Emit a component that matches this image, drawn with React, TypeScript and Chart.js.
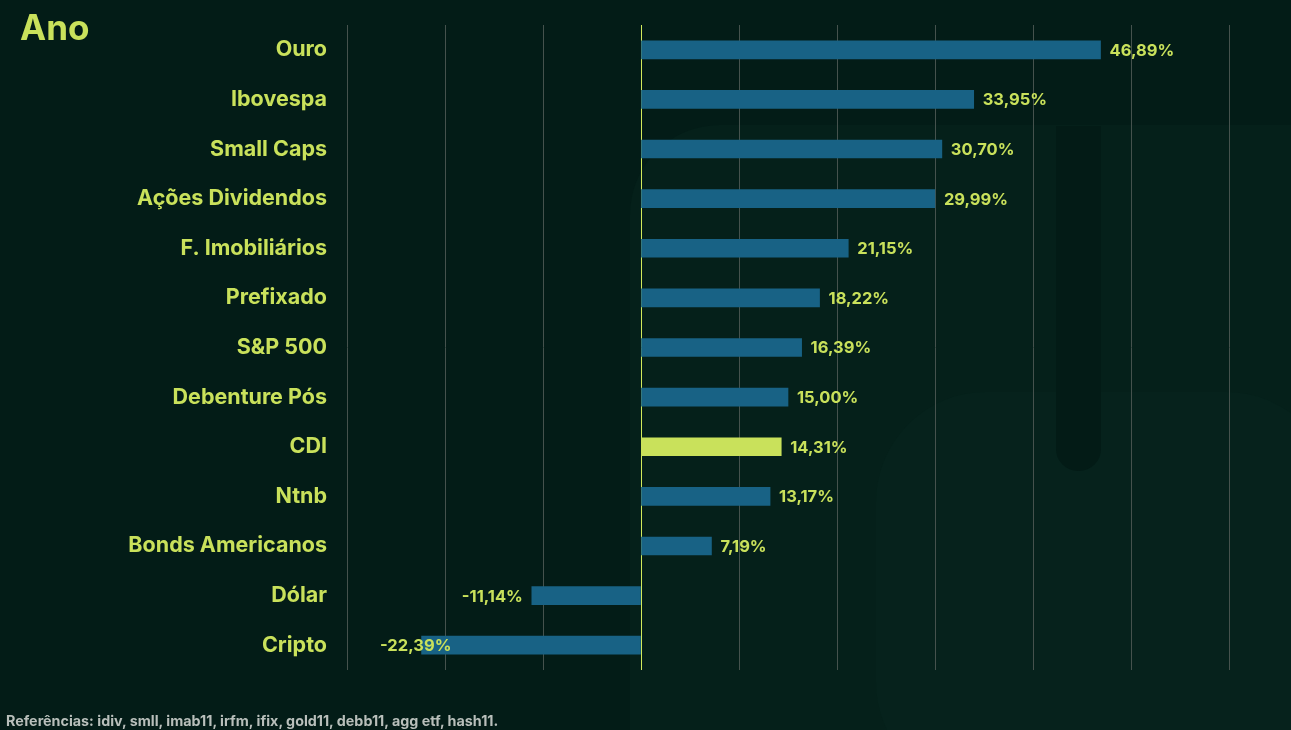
import React, { useEffect, useRef } from "react";
import { Chart, registerables } from "chart.js";

Chart.register(...registerables);

const categories = [
  "Ouro",
  "Ibovespa",
  "Small Caps",
  "Ações Dividendos",
  "F. Imobiliários",
  "Prefixado",
  "S&P 500",
  "Debenture Pós",
  "CDI",
  "Ntnb",
  "Bonds Americanos",
  "Dólar",
  "Cripto",
];
const returns = [46.89, 33.95, 30.7, 29.99, 21.15, 18.22, 16.39, 15.0, 14.31, 13.17, 7.19, -11.14, -22.39];
const highlighted = ["CDI"];
const xMin = -30;
const xMax = 60;
const xStep = 10;
const titleText = "Ano";
const footerText = "Referências: idiv, smll, imab11, irfm, ifix, gold11, debb11, agg etf, hash11.";

const LIME = "#c9e15b";
const BLUE = "#186285";
const BG = "#031c17";
const FONT = "Inter, 'Noto Sans', sans-serif";

const fmt = (v: number) =>
  v.toLocaleString("pt-BR", { minimumFractionDigits: 2, maximumFractionDigits: 2 }) + "%";

const valueLabels = {
  id: "valueLabels",
  afterDatasetsDraw(chart: any) {
    const ctx = chart.ctx;
    const meta = chart.getDatasetMeta(0);
    const area = chart.chartArea;
    ctx.save();
    ctx.font = `700 16.5px ${FONT}`;
    ctx.fillStyle = LIME;
    ctx.textBaseline = "middle";
    meta.data.forEach((bar: any, i: number) => {
      const v = returns[i];
      const txt = fmt(v);
      const w = ctx.measureText(txt).width;
      let x: number;
      if (v >= 0) {
        x = bar.x + 9;
      } else {
        x = Math.max(bar.x - 9 - w, area.left + 33);
      }
      ctx.textAlign = "left";
      ctx.fillText(txt, x, bar.y + 1);
    });
    ctx.restore();
  },
};

export default function App() {
  const ref = useRef<HTMLCanvasElement | null>(null);

  useEffect(() => {
    if (!ref.current) return;
    const chart = new Chart(ref.current, {
      type: "bar",
      data: {
        labels: categories,
        datasets: [
          {
            data: returns,
            backgroundColor: categories.map((c) => (highlighted.includes(c) ? LIME : BLUE)),
            barThickness: 18,
            borderWidth: 0,
          },
        ],
      },
      options: {
        indexAxis: "y",
        responsive: false,
        animation: false,
        layout: { padding: { top: 25, bottom: 60, left: 0, right: 62 } },
        plugins: {
          legend: { display: false },
          tooltip: { enabled: false },
          title: { display: false },
        },
        scales: {
          x: {
            min: xMin,
            max: xMax,
            ticks: { display: false, stepSize: xStep },
            grid: {
              drawTicks: false,
              color: (ctx: any) => (ctx.tick && ctx.tick.value === 0 ? "#d2ea5c" : "#45524d"),
              lineWidth: 1,
            },
            border: { display: false },
            afterFit: (s: any) => {
              s.height = 0;
              s.paddingLeft = 0;
              s.paddingRight = 0;
            },
          },
          y: {
            ticks: {
              color: LIME,
              font: { family: FONT, size: 21.5, weight: "700" },
              padding: 20,
            },
            grid: { display: false, drawTicks: false },
            border: { display: false },
            afterFit: (s: any) => {
              s.width = 347;
              s.paddingTop = 0;
              s.paddingBottom = 0;
            },
          },
        },
      },
      plugins: [valueLabels],
    });
    return () => chart.destroy();
  }, []);

  return (
    <div
      style={{
        position: "fixed",
        left: 0,
        top: 0,
        width: 1291,
        height: 730,
        background: BG,
        overflow: "hidden",
        fontFamily: FONT,
      }}
    >
      <div
        style={{
          position: "absolute",
          left: 630,
          top: 125,
          width: 700,
          height: 700,
          background: "#05201a",
          borderTopLeftRadius: 90,
        }}
      />
      <div
        style={{
          position: "absolute",
          left: 876,
          top: 392,
          width: 460,
          height: 400,
          background: "#06221c",
          borderRadius: 110,
        }}
      />
      <div
        style={{
          position: "absolute",
          left: 1056,
          top: 126,
          width: 45,
          height: 345,
          background: "#031b16",
          borderBottomLeftRadius: 22,
          borderBottomRightRadius: 22,
        }}
      />
      <canvas ref={ref} width={1291} height={730} style={{ position: "absolute", left: 0, top: 0 }} />
      <div
        style={{
          position: "absolute",
          left: 20,
          top: 6,
          color: LIME,
          fontSize: 35,
          fontWeight: 700,
          lineHeight: "42px",
        }}
      >
        {titleText}
      </div>
      <div
        style={{
          position: "absolute",
          left: 6,
          top: 712,
          color: "#b9bfbb",
          fontSize: 14.3,
          fontWeight: 700,
          lineHeight: "18px",
          whiteSpace: "nowrap",
        }}
      >
        {footerText}
      </div>
    </div>
  );
}
